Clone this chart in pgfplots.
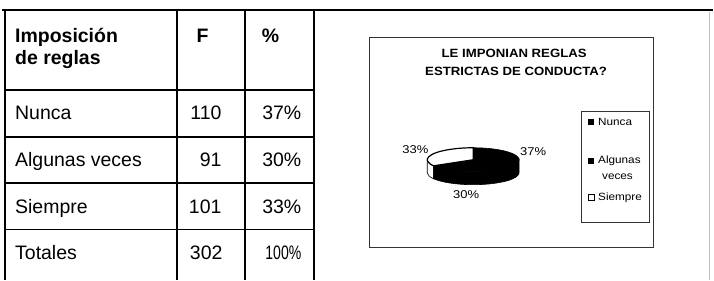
\documentclass[border=0pt]{standalone}
\usepackage{pgfplots}
\usepackage{pgfplotstable}
\pgfplotsset{compat=1.18}
\usepackage{fontspec}
\setmainfont{Liberation Sans}
\usepackage{graphicx}

\pgfplotstableread{
cat value
Nunca 110
Algunas 91
Siempre 101
}\piedata

\newcommand\tf{\fontsize{19.5bp}{21bp}\selectfont}
\newcommand\pf{\fontsize{11.3bp}{12bp}\selectfont}
\newcommand\lf{\fontsize{10.5bp}{11bp}\selectfont}

\begin{document}
\begin{tikzpicture}
\pgfplotstablegetelem{0}{value}\of\piedata \let\vA\pgfplotsretval
\pgfplotstablegetelem{1}{value}\of\piedata \let\vB\pgfplotsretval
\pgfplotstablegetelem{2}{value}\of\piedata \let\vC\pgfplotsretval
\pgfmathsetmacro\tot{\vA+\vB+\vC}
\pgfmathsetmacro\aA{90}
\pgfmathsetmacro\aB{90-360*(\vA/\tot)}
\pgfmathsetmacro\aC{\aB-360*(\vB/\tot)}
\pgfmathsetmacro\aD{\aC-360*(\vC/\tot)}
\begin{axis}[scale only axis, width=714bp, height=280bp,
  xmin=0, xmax=714, ymin=0, ymax=280, y dir=reverse,
  hide axis, clip=false]
\path (axis cs:0,0) (axis cs:714,280);
% ---------- frame and table ----------
\draw[line width=2.4bp] (axis cs:2,10) -- (axis cs:714,10);
\draw[line width=2bp] (axis cs:5,10) -- (axis cs:5,280);
\draw[line width=2bp] (axis cs:177,10) -- (axis cs:177,280);
\draw[line width=2bp] (axis cs:245,10) -- (axis cs:245,280);
\draw[line width=2bp] (axis cs:315,10) -- (axis cs:315,280);
\draw[line width=1.7bp] (axis cs:5,90) -- (axis cs:315,90);
\draw[line width=1.7bp] (axis cs:5,137) -- (axis cs:315,137);
\draw[line width=1.7bp] (axis cs:5,183) -- (axis cs:315,183);
\draw[line width=1.7bp] (axis cs:5,230) -- (axis cs:315,230);
\draw[line width=0.5bp, black!25] (axis cs:710,12) -- (axis cs:710,280);
% header
\node[anchor=base west, inner sep=0pt, font=\tf\bfseries] at (axis cs:15,43) {Imposición};
\node[anchor=base west, inner sep=0pt, font=\tf\bfseries] at (axis cs:15,65) {de reglas};
\node[anchor=base, inner sep=0pt, font=\tf\bfseries] at (axis cs:203,43) {F};
\node[anchor=base, inner sep=0pt, font=\tf\bfseries] at (axis cs:271,43) {\%};
% rows
\node[anchor=base west, inner sep=0pt, font=\tf] at (axis cs:15,120) {Nunca};
\node[anchor=base west, inner sep=0pt, font=\tf] at (axis cs:15,167) {Algunas veces};
\node[anchor=base west, inner sep=0pt, font=\tf] at (axis cs:15,214) {Siempre};
\node[anchor=base west, inner sep=0pt, font=\tf] at (axis cs:15,260) {Totales};
\node[anchor=base east, inner sep=0pt, font=\tf] at (axis cs:222,120) {110};
\node[anchor=base east, inner sep=0pt, font=\tf] at (axis cs:222,167) {91};
\node[anchor=base east, inner sep=0pt, font=\tf] at (axis cs:222,214) {101};
\node[anchor=base east, inner sep=0pt, font=\tf] at (axis cs:223,260) {302};
\node[anchor=base east, inner sep=0pt, font=\tf] at (axis cs:302,120) {37\%};
\node[anchor=base east, inner sep=0pt, font=\tf] at (axis cs:302,167) {30\%};
\node[anchor=base east, inner sep=0pt, font=\tf] at (axis cs:302,214) {33\%};
\node[anchor=base east, inner sep=0pt, font=\tf] at (axis cs:302,260) {\scalebox{0.72}[1]{100\%}};
% ---------- chart box ----------
\draw[line width=0.9bp, black!80] (axis cs:370,38) rectangle (axis cs:655,248);
\node[anchor=base, inner sep=0pt, font=\fontsize{12bp}{13bp}\selectfont\bfseries] at (axis cs:515,58) {\scalebox{1.1}[1]{LE IMPONIAN REGLAS}};
\node[anchor=base, inner sep=0pt, font=\fontsize{12bp}{13bp}\selectfont\bfseries] at (axis cs:517,76) {\scalebox{1.1}[1]{ESTRICTAS DE CONDUCTA?}};
% pie sides (front half)
\def\pc{(axis cs:474,160)}
\filldraw[fill=white, draw=black, line width=0.6bp] \pc ++(\aC:46bp and 12bp) arc[start angle=\aC, end angle=-180, x radius=46bp, y radius=12bp] -- ++(0,-13bp) arc[start angle=-180, end angle=\aC, x radius=46bp, y radius=12bp] -- cycle;
\filldraw[fill=black, draw=black, line width=0.6bp] \pc ++(\aB:46bp and 12bp) arc[start angle=\aB, end angle=\aC, x radius=46bp, y radius=12bp] -- ++(0,-13bp) arc[start angle=\aC, end angle=\aB, x radius=46bp, y radius=12bp] -- cycle;
\filldraw[fill=black, draw=black, line width=0.6bp] \pc ++(0:46bp and 12bp) arc[start angle=0, end angle=\aB, x radius=46bp, y radius=12bp] -- ++(0,-13bp) arc[start angle=\aB, end angle=0, x radius=46bp, y radius=12bp] -- cycle;
% pie tops
\filldraw[fill=black, draw=black, line width=0.6bp] \pc -- ++(\aA:46bp and 12bp) arc[start angle=\aA, end angle=\aB, x radius=46bp, y radius=12bp] -- cycle;
\filldraw[fill=black, draw=black, line width=0.6bp] \pc -- ++(\aB:46bp and 12bp) arc[start angle=\aB, end angle=\aC, x radius=46bp, y radius=12bp] -- cycle;
\filldraw[fill=white, draw=black, line width=1.2bp] \pc -- ++(\aC:46bp and 12bp) arc[start angle=\aC, end angle=\aD, x radius=46bp, y radius=12bp] -- cycle;
% pie labels
\node[inner sep=0pt, font=\pf] at (axis cs:416,150) {\scalebox{1.15}[1]{33\%}};
\node[inner sep=0pt, font=\pf] at (axis cs:534,152) {\scalebox{1.15}[1]{37\%}};
\node[inner sep=0pt, font=\pf] at (axis cs:467,195) {\scalebox{1.15}[1]{30\%}};
% legend
\draw[line width=0.8bp, black!80] (axis cs:582,112) rectangle (axis cs:650,223);
\fill[black] (axis cs:589,119) rectangle (axis cs:595,125);
\fill[black] (axis cs:589,158) rectangle (axis cs:595,164);
\draw[black, line width=0.6bp] (axis cs:589,195) rectangle (axis cs:595,201);
\node[anchor=west, inner sep=0pt, font=\lf] at (axis cs:599,122) {\scalebox{1.12}[1]{Nunca}};
\node[anchor=west, inner sep=0pt, font=\lf] at (axis cs:599,161) {\scalebox{1.12}[1]{Algunas}};
\node[anchor=west, inner sep=0pt, font=\lf] at (axis cs:603,177) {\scalebox{1.12}[1]{veces}};
\node[anchor=west, inner sep=0pt, font=\lf] at (axis cs:599,198) {\scalebox{1.12}[1]{Siempre}};
\end{axis}
\end{tikzpicture}
\end{document}
